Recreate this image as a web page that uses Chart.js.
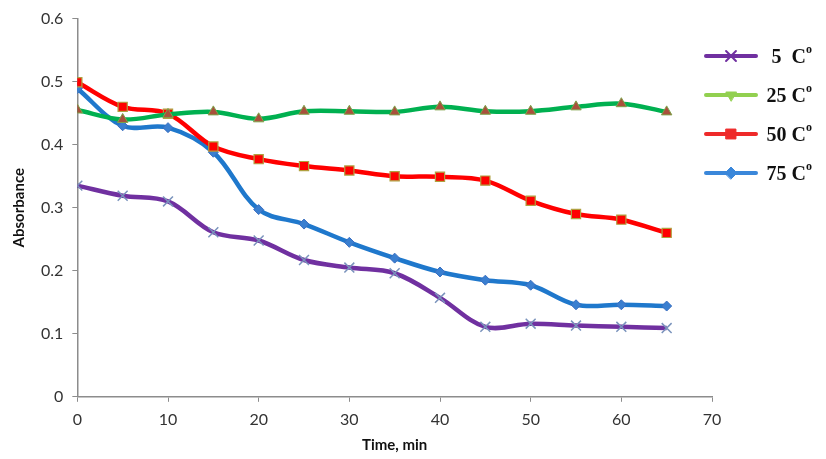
<!DOCTYPE html>
<html>
<head>
<meta charset="utf-8">
<script src="https://cdn.jsdelivr.net/npm/chart.js@4"></script>
<style>
  html, body { margin: 0; padding: 0; background: #fff; }
  #wrap { width: 826px; height: 459px; position: relative; }
</style>
</head>
<body>
<div id="wrap"><canvas id="absChart"></canvas></div>
<script>
// === ABSORBANCE vs TIME ===

const times = [0, 5, 10, 15, 20, 25, 30, 35, 40, 45, 50, 55, 60, 65];
const abs5 = [0.335, 0.319, 0.310, 0.261, 0.248, 0.217, 0.205, 0.196, 0.157, 0.111, 0.116, 0.113, 0.111, 0.109];
const abs25 = [0.455, 0.440, 0.448, 0.452, 0.441, 0.453, 0.453, 0.452, 0.460, 0.453, 0.453, 0.460, 0.465, 0.452];
const abs50 = [0.499, 0.460, 0.449, 0.397, 0.377, 0.366, 0.359, 0.350, 0.349, 0.343, 0.311, 0.290, 0.281, 0.260];
const abs75 = [0.489, 0.430, 0.427, 0.388, 0.297, 0.274, 0.245, 0.220, 0.198, 0.185, 0.177, 0.146, 0.146, 0.144];
const seriesLabels = ['5  C', '25 C', '50 C', '75 C'];
const xTicks = [0, 10, 20, 30, 40, 50, 60, 70];
const yTicks = [0, 0.1, 0.2, 0.3, 0.4, 0.5, 0.6];

const pts = vals => vals.map((v, i) => ({ x: times[i], y: v }));

// legend look differs from plotted markers (as in the original)
const LEGEND = [
    { line: '#7030A0', style: 'crossRot', fill: '#7030A0', border: '#7030A0', r: 7 },
    { line: '#92D050', style: 'triangle', rot: 180, fill: '#92D050', border: '#92D050', r: 6 },
    { line: '#EE2A2A', style: 'rect', fill: '#EE2A2A', border: '#EE2A2A', r: 7 },
    { line: '#3A87DA', style: 'rectRot', fill: '#3A87DA', border: '#3A87DA', r: 6 }
];

const sideLegend = {
    id: 'sideLegend',
    afterDraw(chart) {
        const c = chart.ctx;
        const rows = [56, 95, 134, 173];
        c.save();
        LEGEND.forEach((l, i) => {
            const y = rows[i];
            c.strokeStyle = l.line;
            c.lineWidth = 4;
            c.lineCap = 'round';
            c.beginPath(); c.moveTo(706, y); c.lineTo(756, y); c.stroke();
            c.fillStyle = l.fill;
            c.strokeStyle = l.border;
            c.lineWidth = l.style === 'crossRot' ? 2 : 1;
            Chart.helpers.drawPoint(c, { pointStyle: l.style, radius: l.r, rotation: l.rot || 0, borderWidth: c.lineWidth }, 731, y);
            c.fillStyle = '#111';
            c.font = 'bold 20px "Liberation Serif"';
            c.textAlign = 'right';
            c.textBaseline = 'middle';
            c.fillText(seriesLabels[i], 806, y + 2);
            c.font = 'bold 12px "Liberation Serif"';
            c.textAlign = 'left';
            c.fillText('o', 806, y - 6);
        });
        c.restore();
    }
};

const ctx = document.getElementById('absChart').getContext('2d');
new Chart(ctx, {
    type: 'line',
    data: {
        datasets: [
            { label: seriesLabels[0], data: pts(abs5), borderColor: '#7030A0', borderWidth: 4.5,
              pointStyle: 'crossRot', pointRadius: 7, pointBorderWidth: 1.5, pointBorderColor: '#7A93BC', pointBackgroundColor: '#7A93BC' },
            { label: seriesLabels[1], data: pts(abs25), borderColor: '#00B050', borderWidth: 4.5,
              pointStyle: 'triangle', pointRadius: 6, pointBorderWidth: 1, pointBorderColor: '#7FA24A', pointBackgroundColor: '#A9503C' },
            { label: seriesLabels[2], data: pts(abs50), borderColor: '#FF0000', borderWidth: 4.5,
              pointStyle: 'rect', pointRadius: 6.5, pointBorderWidth: 1.2, pointBorderColor: '#B0A040', pointBackgroundColor: '#FF0000' },
            { label: seriesLabels[3], data: pts(abs75), borderColor: '#1F78CC', borderWidth: 4.5,
              pointStyle: 'rectRot', pointRadius: 5, pointBorderWidth: 1, pointBorderColor: '#3A6FC0', pointBackgroundColor: '#3A7FD0' }
        ]
    },
    options: {
        responsive: true, maintainAspectRatio: false, animation: false,
        layout: { padding: { top: 17, right: 114, left: 6, bottom: 6 } },
        elements: { line: { tension: 0.35 } },
        plugins: { legend: { display: false }, tooltip: { enabled: false } },
        scales: {
            x: {
                type: 'linear', min: 0, max: 70,
                afterBuildTicks: s => { s.ticks = xTicks.map(v => ({ value: v })); },
                border: { color: '#8C8C8C', width: 1.5 },
                grid: { display: true, drawOnChartArea: false, drawTicks: true, tickLength: 5, color: '#8C8C8C' },
                ticks: { color: '#333', font: { family: 'Lato', size: 16 }, padding: 8, maxRotation: 0 },
                title: { display: true, text: 'Time, min', color: '#111', font: { family: 'Lato', size: 15, weight: 'bold', lineHeight: 1 }, padding: { top: 1, bottom: 0 } }
            },
            y: {
                min: 0, max: 0.6,
                afterBuildTicks: s => { s.ticks = yTicks.map(v => ({ value: v })); },
                border: { color: '#8C8C8C', width: 1.5 },
                grid: { display: true, drawOnChartArea: false, drawTicks: true, tickLength: 5, color: '#8C8C8C' },
                ticks: { color: '#333', font: { family: 'Lato', size: 16 }, padding: 9, callback: v => String(v) },
                title: { display: true, text: 'Absorbance', color: '#111', font: { family: 'Lato', size: 15, weight: 'bold' }, padding: { bottom: 4 } }
            }
        }
    },
    plugins: [sideLegend]
});
</script>
</body>
</html>
